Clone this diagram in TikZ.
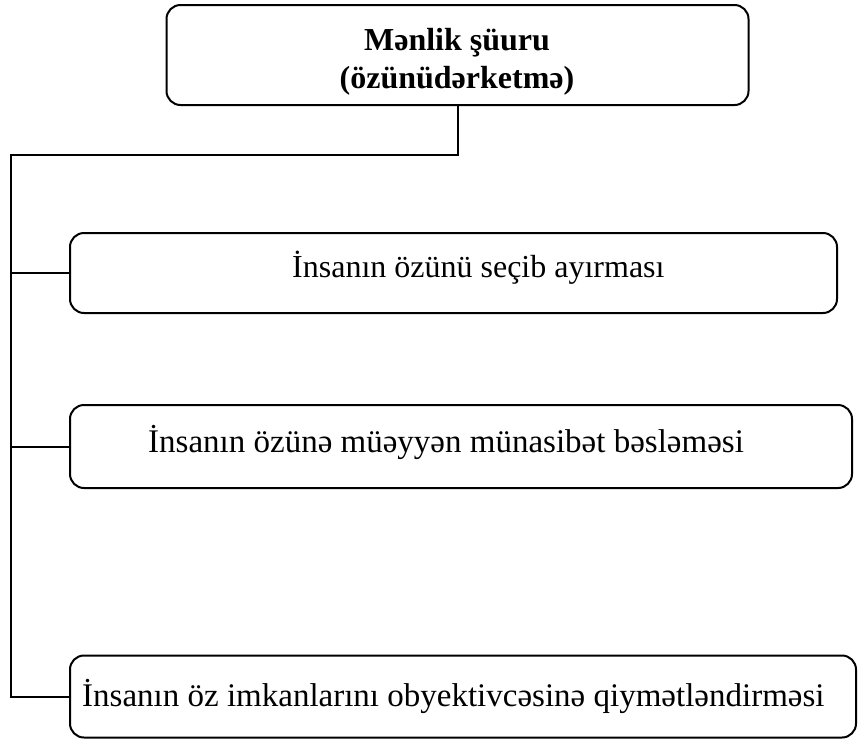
\documentclass[tikz,border=0pt]{standalone}
\usepackage{fontspec}
\setmainfont{Liberation Serif}
\begin{document}
\begin{tikzpicture}[x=1pt,y=-1pt,
  box/.style={draw=black,line width=2pt,rounded corners=14pt,inner sep=0pt,outer sep=0pt},
  conn/.style={draw=black,line width=2pt},
  lbl/.style={inner sep=0pt,anchor=base west,font=\fontsize{32}{37}\selectfont}]
\useasboundingbox (0,0) rectangle (859,740);
% boxes
\node[box,minimum width=582pt,minimum height=100pt] (top) at (457.5,55) {};
\node[box,minimum width=767pt,minimum height=80pt] (b1) at (453.5,273) {};
\node[box,minimum width=782pt,minimum height=83pt] (b2) at (461,446.5) {};
\node[box,minimum width=786pt,minimum height=82pt] (b3) at (463,696.5) {};
% texts
\node[inner sep=0pt,align=center,font=\fontsize{32}{38}\selectfont\bfseries,anchor=base] (t0) at (457,88) {Mənlik şüuru\\(özünüdərketmə)};
\node[lbl] (t1) at (292,277) {İnsanın özünü seçib ayırması};
\node[lbl,font=\fontsize{33}{37}\selectfont] (t2) at (148,452) {İnsanın özünə müəyyən münasibət bəsləməsi};
\node[lbl,font=\fontsize{33}{37}\selectfont] (t3) at (82,706) {İnsanın öz imkanlarını obyektivcəsinə qiymətləndirməsi};
% connectors
\coordinate (spine) at (11,155);
\draw[conn] (top.south) |- (spine) |- (b3.west);
\draw[conn] (spine |- b1.west) -- (b1.west);
\draw[conn] (spine |- b2.west) -- (b2.west);
\end{tikzpicture}
\end{document}
